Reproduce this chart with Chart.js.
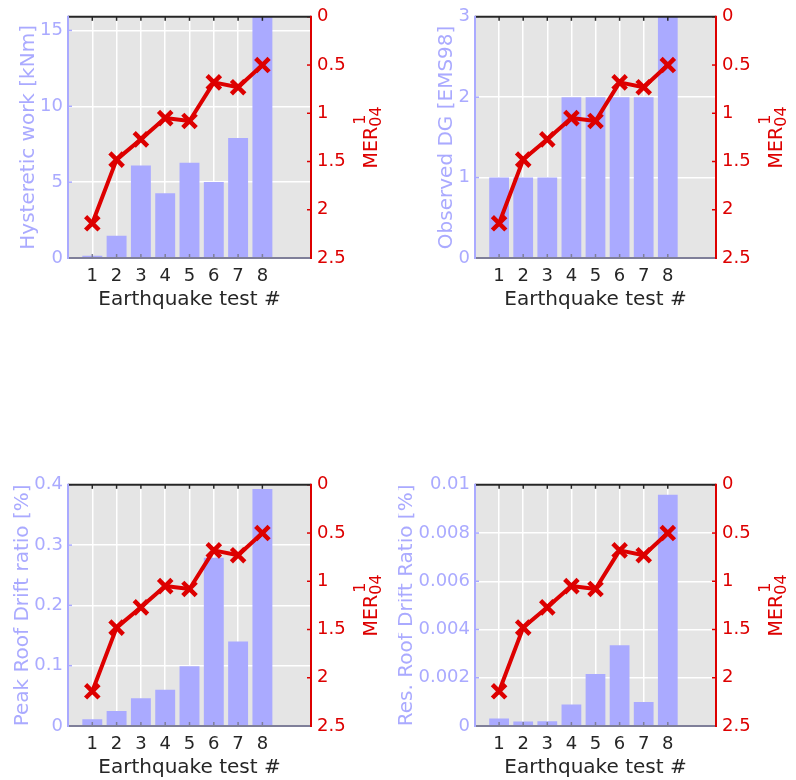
<!DOCTYPE html>
<html>
<head>
<meta charset="utf-8">
<script src="https://cdn.jsdelivr.net/npm/chart.js@4.4.1/dist/chart.umd.min.js"></script>
<style>
  html, body { margin: 0; padding: 0; background: #ffffff; }
  body { position: relative; width: 796px; height: 780px; overflow: hidden; }
  canvas { position: absolute; }
</style>
</head>
<body>
<canvas id="workChart" width="398" height="330" style="left:0px;top:0px"></canvas>
<canvas id="dgChart" width="398" height="330" style="left:398px;top:0px"></canvas>
<canvas id="peakChart" width="398" height="312" style="left:0px;top:468px"></canvas>
<canvas id="resChart" width="398" height="312" style="left:398px;top:468px"></canvas>
<script>
// Earthquake tests and the MER(1,04) index shared by all four panels
const testNumbers = [1, 2, 3, 4, 5, 6, 7, 8];
const merValues = [2.14, 1.48, 1.27, 1.05, 1.08, 0.68, 0.73, 0.50];
const merTicks = [0, 0.5, 1, 1.5, 2, 2.5];

// Response quantities per test
const hystereticWork = [0.15, 1.46, 6.1, 4.27, 6.28, 5.01, 7.91, 15.9];
const observedDG = [1, 1, 1, 2, 2, 2, 2, 3];
const peakRoofDrift = [0.011, 0.025, 0.046, 0.060, 0.099, 0.279, 0.140, 0.393];
const resRoofDrift = [0.00031, 0.00019, 0.00020, 0.00089, 0.00216, 0.00335, 0.00100, 0.00959];

// Left-axis ticks for each panel
const workTicks = [0, 5, 10, 15];
const dgTicks = [0, 1, 2, 3];
const peakTicks = [0, 0.1, 0.2, 0.3, 0.4];
const resTicks = [0, 0.002, 0.004, 0.006, 0.008, 0.01];

const BAR_BLUE = '#aaaaff';
const RED = '#dd0000';
const INK = '#262626';
const AXIS_GRAY = '#7f7f99';
const PANEL_BG = '#e5e5e5';
const FONT = '"DejaVu Sans", Verdana, sans-serif';

Chart.defaults.font.family = FONT;

const PLOT_TOP = 14;
const PLOT_H = 244;
const TICK_LEN = 4;

function strokeLine(ctx, x1, y1, x2, y2) {
  ctx.beginPath();
  ctx.moveTo(x1, y1);
  ctx.lineTo(x2, y2);
  ctx.stroke();
}

// Gray plotting box, inward ticks, coloured axis lines and axis titles
const axesFrame = {
  id: 'axesFrame',
  beforeDraw(chart) {
    const { ctx, chartArea: a } = chart;
    ctx.save();
    ctx.fillStyle = PANEL_BG;
    ctx.fillRect(a.left, a.top, a.width, a.height);
    ctx.restore();
  },
  afterDatasetsDraw(chart, args, opts) {
    const { ctx, chartArea: a, scales } = chart;
    const sx = scales.x, sy = scales.y, sr = scales.y2;
    ctx.save();
    ctx.lineWidth = 1.5;

    // inward tick marks
    ctx.strokeStyle = INK;
    sx.ticks.forEach(t => {
      const px = sx.getPixelForValue(t.value);
      strokeLine(ctx, px, a.top, px, a.top + TICK_LEN);
    });
    ctx.strokeStyle = AXIS_GRAY;
    sx.ticks.forEach(t => {
      const px = sx.getPixelForValue(t.value);
      strokeLine(ctx, px, a.bottom, px, a.bottom - TICK_LEN);
    });
    ctx.strokeStyle = BAR_BLUE;
    sy.ticks.forEach(t => {
      const py = sy.getPixelForValue(t.value);
      strokeLine(ctx, a.left, py, a.left + TICK_LEN, py);
    });
    ctx.strokeStyle = RED;
    sr.ticks.forEach(t => {
      const py = sr.getPixelForValue(t.value);
      strokeLine(ctx, a.right - TICK_LEN, py, a.right + 1, py);
    });

    // axis lines
    ctx.lineWidth = 2;
    ctx.strokeStyle = INK;
    strokeLine(ctx, a.left, a.top, a.right, a.top);
    ctx.strokeStyle = AXIS_GRAY;
    strokeLine(ctx, a.left, a.bottom, a.right, a.bottom);
    ctx.strokeStyle = BAR_BLUE;
    strokeLine(ctx, a.left, a.top - 1, a.left, a.bottom + 1);
    ctx.strokeStyle = RED;
    strokeLine(ctx, a.right, a.top - 1, a.right, a.bottom + 1);

    const midY = (a.top + a.bottom) / 2;

    // left title, placed beyond the widest tick label
    ctx.font = '18px ' + FONT;
    let widest = 0;
    sy.ticks.forEach(t => { widest = Math.max(widest, ctx.measureText(String(t.value)).width); });
    const leftBase = a.left - 5 - widest - 6.5;
    ctx.save();
    ctx.translate(leftBase, midY);
    ctx.rotate(-Math.PI / 2);
    ctx.font = '20px ' + FONT;
    ctx.fillStyle = BAR_BLUE;
    ctx.textAlign = 'center';
    ctx.textBaseline = 'alphabetic';
    ctx.fillText(opts.leftTitle, 0, 0);
    ctx.restore();

    // bottom title
    ctx.font = '20px ' + FONT;
    ctx.fillStyle = INK;
    ctx.textAlign = 'center';
    ctx.textBaseline = 'alphabetic';
    ctx.fillText('Earthquake test #', (a.left + a.right) / 2, a.bottom + 47);

    // right title: MER with superscript 1 and subscript 04
    ctx.save();
    ctx.translate(a.right + 66, midY);
    ctx.rotate(-Math.PI / 2);
    ctx.fillStyle = RED;
    ctx.textAlign = 'left';
    ctx.textBaseline = 'alphabetic';
    ctx.font = '19px ' + FONT;
    const mainW = ctx.measureText('MER').width;
    ctx.font = '16px ' + FONT;
    const subW = ctx.measureText('04').width;
    const total = mainW + subW;
    const x0 = -total / 2;
    ctx.font = '19px ' + FONT;
    ctx.fillText('MER', x0, 0);
    ctx.font = '16px ' + FONT;
    ctx.fillText('04', x0 + mainW, 4);
    ctx.fillText('1', x0 + mainW + 2, -12);
    ctx.restore();

    ctx.restore();
  }
};

function makePanel(canvasId, values, leftTicks, leftMax, leftTitle, plotLeft, plotRight) {
  const canvas = document.getElementById(canvasId);
  const W = canvas.width, H = canvas.height;
  return new Chart(canvas, {
    type: 'bar',
    data: {
      datasets: [
        {
          type: 'line',
          data: testNumbers.map((x, i) => ({ x: x, y: merValues[i] })),
          xAxisID: 'x',
          yAxisID: 'y2',
          borderColor: RED,
          borderWidth: 4,
          borderJoinStyle: 'round',
          pointStyle: 'crossRot',
          pointRadius: 9.5,
          pointBorderWidth: 4.5,
          pointBorderColor: RED,
          pointBackgroundColor: RED,
          tension: 0,
          fill: false,
          order: 1
        },
        {
          type: 'bar',
          data: testNumbers.map((x, i) => ({ x: x, y: values[i] })),
          xAxisID: 'x',
          yAxisID: 'y',
          backgroundColor: BAR_BLUE,
          borderWidth: 0,
          barPercentage: 0.82,
          categoryPercentage: 1.0,
          order: 2
        }
      ]
    },
    options: {
      responsive: false,
      devicePixelRatio: 1,
      animation: false,
      events: [],
      layout: { padding: { top: PLOT_TOP, left: 0, right: 0, bottom: 0 } },
      plugins: {
        legend: { display: false },
        tooltip: { enabled: false },
        axesFrame: { leftTitle: leftTitle }
      },
      scales: {
        x: {
          type: 'linear',
          position: 'bottom',
          min: 0,
          max: 10,
          offset: false,
          afterBuildTicks: s => { s.ticks = testNumbers.map(v => ({ value: v })); },
          afterFit: s => { s.height = H - PLOT_TOP - PLOT_H; },
          grid: { color: '#ffffff', lineWidth: 1.5, drawTicks: false, offset: false },
          border: { display: false },
          ticks: {
            color: INK,
            font: { size: 18 },
            padding: 8,
            maxRotation: 0,
            autoSkip: false,
            callback: v => String(v)
          }
        },
        y: {
          type: 'linear',
          position: 'left',
          min: 0,
          max: leftMax,
          afterBuildTicks: s => { s.ticks = leftTicks.map(v => ({ value: v })); },
          afterFit: s => { s.width = plotLeft; },
          grid: { color: '#ffffff', lineWidth: 1.5, drawTicks: false },
          border: { display: false },
          ticks: {
            color: BAR_BLUE,
            font: { size: 18 },
            padding: 5,
            autoSkip: false,
            callback: v => String(v)
          }
        },
        y2: {
          type: 'linear',
          position: 'right',
          reverse: true,
          min: 0,
          max: 2.5,
          afterBuildTicks: s => { s.ticks = merTicks.map(v => ({ value: v })); },
          afterFit: s => { s.width = W - plotRight; },
          grid: { display: false, drawTicks: false },
          border: { display: false },
          ticks: {
            color: RED,
            font: { size: 18 },
            padding: 6,
            autoSkip: false,
            callback: v => String(v)
          }
        }
      }
    },
    plugins: [axesFrame]
  });
}

makePanel('workChart', hystereticWork, workTicks, 15.9, 'Hysteretic work [kNm]', 68, 311);
makePanel('dgChart', observedDG, dgTicks, 3, 'Observed DG [EMS98]', 77, 318);
makePanel('peakChart', peakRoofDrift, peakTicks, 0.4, 'Peak Roof Drift ratio [%]', 68, 311);
makePanel('resChart', resRoofDrift, resTicks, 0.01, 'Res. Roof Drift Ratio [%]', 77, 318);
</script>
</body>
</html>
